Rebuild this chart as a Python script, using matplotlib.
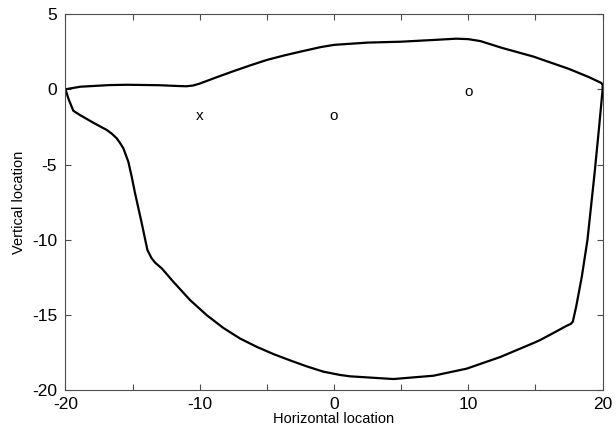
import matplotlib
matplotlib.use('Agg')
import matplotlib.pyplot as plt

plt.rcParams['font.family'] = ['Liberation Sans', 'DejaVu Sans']
plt.rcParams['axes.unicode_minus'] = False

# outline of the region, traced clockwise from the left corner
upper_x = [-20, -18.9, -16.7, -15.4, -13, -11.7, -11, -10.5, -10, -8.8, -7.5, -6.2, -5,
           -3.7, -2.5, -1, 0, 2.5, 5, 7.5, 9.1, 10, 10.9, 12.5, 14.85, 17.5, 19, 19.9, 20]
upper_y = [0, 0.17, 0.28, 0.3, 0.27, 0.22, 0.2, 0.25, 0.38, 0.78, 1.2, 1.6, 1.95,
           2.25, 2.5, 2.8, 2.95, 3.1, 3.16, 3.28, 3.36, 3.33, 3.2, 2.75, 2.17, 1.35, 0.8, 0.42, 0.3]

right_x = [20, 19.74, 19.4, 18.87, 18.45, 18.03, 17.78, 17.63, 17.33]
right_y = [0, -2.48, -5.58, -10, -12.44, -14.43, -15.43, -15.58, -15.7]

lower_x = [16.4, 15.35, 14.85, 12.37, 9.88, 7.4, 4.42, 1.19, 0.45, -0.8, -2.03, -3.28,
           -4.52, -5.76, -7.0, -8.24, -9.48, -10.73, -11.97, -12.83, -13.33]
lower_y = [-16.15, -16.65, -16.85, -17.78, -18.55, -19.02, -19.24, -19.06, -18.97, -18.75, -18.4, -18.0,
           -17.58, -17.1, -16.55, -15.85, -15.0, -13.99, -12.78, -11.89, -11.51]

left_x = [-13.6, -13.9, -14.32, -14.82, -15.07, -15.32, -15.69, -15.95, -16.19, -16.55, -16.93,
          -17.93, -18.92, -19.42, -19.79, -20]
left_y = [-11.2, -10.67, -8.9, -6.9, -5.8, -4.81, -3.92, -3.55, -3.25, -2.95, -2.7,
          -2.22, -1.71, -1.42, -0.6, 0]

# point labels
pt_x = [-10, 0, 10]
pt_y = [-1.8, -1.8, -0.15]
pt_txt = ['x', 'o', 'o']

xs = upper_x + right_x + lower_x + left_x
ys = upper_y + right_y + lower_y + left_y

fig = plt.figure(figsize=(6.16, 4.33), dpi=100)
ax = fig.add_axes([0.1063, 0.0982, 0.872, 0.8695])

ax.plot(xs, ys, color='black', lw=1.6)
for px, py, t in zip(pt_x, pt_y, pt_txt):
    ax.text(px, py, t, ha='center', va='center', fontsize=11)

ax.set_xlim(-20, 20)
ax.set_ylim(-20, 5)
ax.set_xticks(range(-20, 21, 5))
ax.set_xticklabels(['-20', '', '-10', '', '0', '', '10', '', '20'])
ax.set_yticks(range(-20, 6, 5))
ax.set_yticklabels([str(v) for v in range(-20, 6, 5)])
ax.tick_params(direction='in', length=4, width=0.8, color='0.3',
               top=True, right=True, labelsize=12.5)
ax.tick_params(axis='x', pad=5)
ax.tick_params(axis='y', pad=6)
for s in ax.spines.values():
    s.set_color('0.3')
    s.set_linewidth(0.8)

ax.set_xlabel('Horizontal location', fontsize=10.5, labelpad=0)
ax.set_ylabel('Vertical location', fontsize=10.5, labelpad=4)

fig.savefig('out.png', dpi=100)
